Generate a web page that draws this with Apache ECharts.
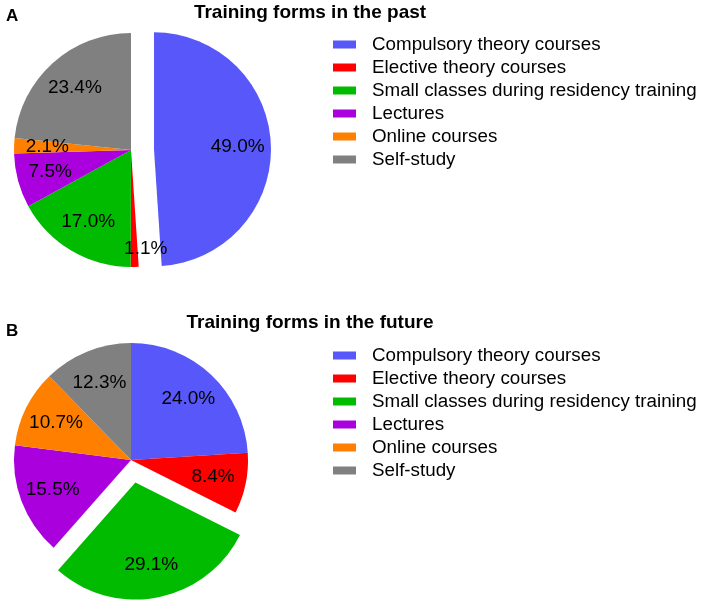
<!DOCTYPE html>
<html>
<head>
<meta charset="utf-8">
<script src="https://cdn.jsdelivr.net/npm/echarts@6/dist/echarts.min.js"></script>
<style>
  html, body { margin: 0; padding: 0; background: #fff; }
  #main { width: 702px; height: 603px; }
</style>
</head>
<body>
<div id="main"></div>
<script>
// categories and colours
const categories = [
  "Compulsory theory courses",
  "Elective theory courses",
  "Small classes during residency training",
  "Lectures",
  "Online courses",
  "Self-study"
];
const colors = ["#5757FA", "#FF0000", "#00BB00", "#AA00DD", "#FF8000", "#808080"];

// percentages
const pastValues = [49.0, 1.1, 17.0, 7.5, 2.1, 23.4];
const futureValues = [24.0, 8.4, 29.1, 15.5, 10.7, 12.3];
// which slice is pulled out
const pastExploded = 0;
const futureExploded = 2;

const font = "Arial, 'Liberation Sans', sans-serif";
const R = 117;

function pieData(values, exploded, hidden) {
  return values.map((v, i) => {
    const item = {
      name: categories[i],
      value: v,
      selected: i === exploded,
      itemStyle: { color: hidden ? "rgba(0,0,0,0)" : colors[i] }
    };
    // too thin for an inside label: hang it just inside the rim
    if (hidden && v < 2) {
      item.label = { position: "outside" };
      item.labelLine = { show: false, length: -18, length2: -15 };
    }
    return item;
  });
}

// slices, then a transparent ring that only carries the labels further out
function pieSeries(values, exploded, center) {
  return [
    {
      type: "pie",
      z: 1,
      center: center,
      radius: [0, R],
      startAngle: 90,
      clockwise: true,
      selectedMode: "multiple",
      selectedOffset: 23,
      silent: true,
      animation: false,
      label: { show: false },
      labelLine: { show: false },
      data: pieData(values, exploded, false)
    },
    {
      type: "pie",
      z: 3,
      center: center,
      radius: [R * 0.38, R],
      startAngle: 90,
      clockwise: true,
      selectedMode: "multiple",
      selectedOffset: 23,
      silent: true,
      animation: false,
      avoidLabelOverlap: false,
      label: {
        show: true,
        position: "inside",
        formatter: p => p.value.toFixed(1) + "%",
        color: "#000",
        fontSize: 19,
        fontFamily: font
      },
      labelLine: { show: false },
      data: pieData(values, exploded, true)
    }
  ];
}

function legendFor(top) {
  return {
    orient: "vertical",
    left: 333,
    top: top,
    padding: 0,
    itemWidth: 23,
    itemHeight: 8,
    itemGap: 0,
    icon: "rect",
    selectedMode: false,
    textStyle: { fontSize: 18.8, lineHeight: 23, color: "#000", fontFamily: font, padding: [0, 0, 0, 11] },
    data: categories.map((c, i) => ({ name: c, itemStyle: { color: colors[i] } }))
  };
}

const chart = echarts.init(document.getElementById("main"));
chart.setOption({
  backgroundColor: "#fff",
  title: [
    { text: "Training forms in the past", left: 305, top: -2, textAlign: "center",
      textStyle: { fontSize: 19, fontWeight: "bold", color: "#000", fontFamily: font } },
    { text: "Training forms in the future", left: 305, top: 308, textAlign: "center",
      textStyle: { fontSize: 19, fontWeight: "bold", color: "#000", fontFamily: font } },
    { text: "A", left: 1, top: 3,
      textStyle: { fontSize: 17, fontWeight: "bold", color: "#000", fontFamily: font } },
    { text: "B", left: 1, top: 318,
      textStyle: { fontSize: 17, fontWeight: "bold", color: "#000", fontFamily: font } }
  ],
  legend: [legendFor(33), legendFor(344)],
  series: [
    ...pieSeries(pastValues, pastExploded, [131, 150]),
    ...pieSeries(futureValues, futureExploded, [131, 460])
  ]
});
</script>
</body>
</html>
